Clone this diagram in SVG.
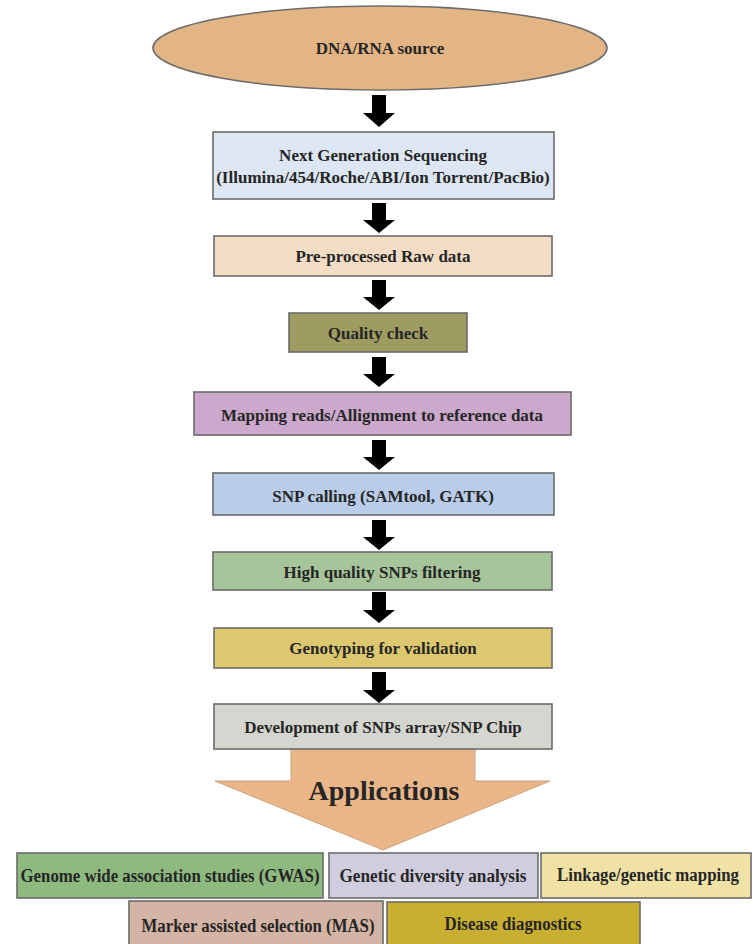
<svg xmlns="http://www.w3.org/2000/svg" width="753" height="944" viewBox="0 0 753 944">
<style>
.box{stroke:#6b6b6b;stroke-width:1.6}
.t{font-family:"Liberation Serif","Times New Roman",serif;font-weight:bold;font-size:17px;fill:#262626;text-anchor:middle}
.b{font-size:18px}
.arr{fill:#000}
</style>
<defs>
<path id="blk" d="M-7,0 H7 V-12 H16 L0,0 L-16,-12 H-7 Z"/>
</defs>
<rect width="753" height="944" fill="#fff"/>

<g id="connectors">
<path class="arr" d="M372,95 H386 V113 H395 L379,127 L363,113 H372 Z"/>
<path class="arr" d="M372,203 H386 V220 H395 L379,233 L363,220 H372 Z"/>
<path class="arr" d="M372,280 H386 V297 H395 L379,310 L363,297 H372 Z"/>
<path class="arr" d="M372,357 H386 V374 H395 L379,387 L363,374 H372 Z"/>
<path class="arr" d="M372,440 H386 V457 H395 L379,470 L363,457 H372 Z"/>
<path class="arr" d="M372,520 H386 V537 H395 L379,550 L363,537 H372 Z"/>
<path class="arr" d="M372,592 H386 V610 H395 L379,623 L363,610 H372 Z"/>
<path class="arr" d="M372,672 H386 V690 H395 L379,703 L363,690 H372 Z"/>
</g>

<g id="applications">
<polygon points="291,748 475,748 475,781 550,781 383,850 215,781 291,781" fill="#EBB687" stroke="#c9a27c" stroke-width="1"/>
<text class="t" x="384" y="800" style="font-size:28px">Applications</text>
</g>

<g id="n1">
<ellipse class="box" cx="380" cy="48" rx="227" ry="42" fill="#E4B584"/>
<text class="t" x="380" y="54">DNA/RNA source</text>
</g>
<g id="n2">
<rect class="box" x="213" y="132" width="341" height="67" fill="#DDE7F3"/>
<text class="t" x="383" y="161">Next Generation Sequencing</text>
<text class="t" x="383" y="183">(Illumina/454/Roche/ABI/Ion Torrent/PacBio)</text>
</g>
<g id="n3">
<rect class="box" x="214" y="236" width="338" height="40" fill="#F3DDC5"/>
<text class="t" x="383" y="262">Pre-processed Raw data</text>
</g>
<g id="n4">
<rect class="box" x="289" y="313" width="178" height="39" fill="#9E9C60"/>
<text class="t" x="378" y="339">Quality check</text>
</g>
<g id="n5">
<rect class="box" x="194" y="392" width="377" height="43" fill="#CBA8CC"/>
<text class="t" x="382" y="421">Mapping reads/Allignment to reference data</text>
</g>
<g id="n6">
<rect class="box" x="213" y="473" width="341" height="42" fill="#B9CDE9"/>
<text class="t" x="383" y="502">SNP calling (SAMtool, GATK)</text>
</g>
<g id="n7">
<rect class="box" x="213" y="552" width="339" height="38" fill="#A7C59B"/>
<text class="t" x="382" y="578">High quality SNPs filtering</text>
</g>
<g id="n8">
<rect class="box" x="214" y="628" width="338" height="40" fill="#DDC86F"/>
<text class="t" x="383" y="654">Genotyping for validation</text>
</g>
<g id="n9">
<rect class="box" x="214" y="704" width="338" height="45" fill="#D5D6D0"/>
<text class="t" x="383" y="733">Development of SNPs array/SNP Chip</text>
</g>

<g id="a1">
<rect class="box" x="17" y="853" width="306" height="45" fill="#8EB97F"/>
<text class="t b" x="170" y="882" textLength="299" lengthAdjust="spacingAndGlyphs">Genome wide association studies (GWAS)</text>
</g>
<g id="a2">
<rect class="box" x="329" y="853" width="209" height="45" fill="#D0CDDE"/>
<text class="t b" x="433" y="882" textLength="187" lengthAdjust="spacingAndGlyphs">Genetic diversity analysis</text>
</g>
<g id="a3">
<rect class="box" x="541" y="853" width="210" height="45" fill="#EFE2A4"/>
<text class="t b" x="648" y="881" textLength="182" lengthAdjust="spacingAndGlyphs">Linkage/genetic mapping</text>
</g>
<g id="a4">
<rect class="box" x="129" y="901" width="254" height="50" fill="#D4B4A4"/>
<text class="t b" x="258" y="932" textLength="233" lengthAdjust="spacingAndGlyphs">Marker assisted selection (MAS)</text>
</g>
<g id="a5">
<rect class="box" x="387" y="902" width="253" height="50" fill="#C9AF30"/>
<text class="t b" x="513" y="930" textLength="137" lengthAdjust="spacingAndGlyphs">Disease diagnostics</text>
</g>
</svg>
